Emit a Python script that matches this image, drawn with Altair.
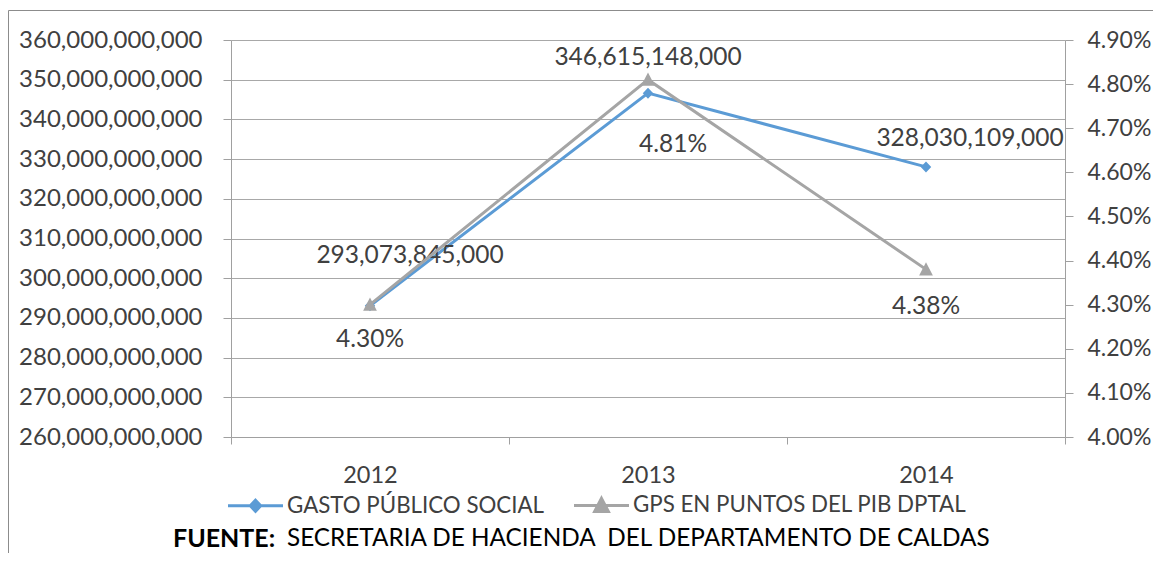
import altair as alt
import pandas as pd

years = ["2012", "2013", "2014"]
gasto = [293073845000, 346615148000, 328030109000]
gps_pct = [4.30, 4.81, 4.38]
series = ["GASTO PÚBLICO SOCIAL", "GPS EN PUNTOS DEL PIB DPTAL"]
left_ticks = [260000000000, 270000000000, 280000000000, 290000000000, 300000000000,
              310000000000, 320000000000, 330000000000, 340000000000, 350000000000,
              360000000000]
right_ticks = [0.040, 0.041, 0.042, 0.043, 0.044, 0.045, 0.046, 0.047, 0.048, 0.049]
source_bold = "FUENTE:"
source_text = "SECRETARIA DE HACIENDA\u00a0 DEL DEPARTAMENTO DE CALDAS"

FONT = "Lato"
TXT = "#404040"
AX = "#A0A0A0"
GRID = "#A8A8A8"
BLUE = "#5B9BD5"
GRAY = "#A5A5A5"
DIAMOND = "M-1,0L1,0M0,-0.2L0.19,0L0,0.2L-0.19,0Z"
TRIANGLE = "M-1,0L1,0M0,-0.26L0.25,0.22L-0.25,0.22Z"

df = pd.DataFrame({"year": years, "gasto": gasto, "gps": [v / 100 for v in gps_pct]})

X = alt.X("year:N", scale=alt.Scale(type="band", paddingInner=0, paddingOuter=0),
          bandPosition=0.5,
          axis=alt.Axis(title=None, labelAngle=0, tickBand="extent", tickSize=7, labelPadding=19,
                        domainColor=AX, tickColor=AX, labelColor=TXT, labelFont=FONT,
                        labelFontSize=23.5, grid=False, labelLimit=0))

YL = alt.Y("gasto:Q", scale=alt.Scale(domain=[260000000000, 360000000000], nice=False, zero=False),
           axis=alt.Axis(orient="left", values=left_ticks, format=",.0f", title=None, grid=True,
                         gridColor=GRID, domainColor=AX, tickColor=AX, tickSize=8, labelPadding=21,
                         labelFont=FONT, labelFontSize=24, labelColor=TXT, labelOverlap=False,
                         labelLimit=0))

YR = alt.Y("gps:Q", scale=alt.Scale(domain=[0.04, 0.049], nice=False, zero=False),
           axis=alt.Axis(orient="right", values=right_ticks, format=".2%", title=None, grid=False,
                         domainColor=AX, tickColor=AX, tickSize=8, labelPadding=14,
                         labelFont=FONT, labelFontSize=23, labelColor=TXT, labelOverlap=False,
                         labelLimit=0))

color_scale = alt.Scale(domain=series, range=[BLUE, GRAY])
shape_scale = alt.Scale(domain=series, range=[DIAMOND, TRIANGLE])
LEG = alt.Legend(orient="none", legendX=-4.5, legendY=436, direction="horizontal", title=None,
                 symbolSize=3025, symbolStrokeWidth=3, symbolOpacity=1,
                 labelFont=FONT, labelFontSize=22.3, labelColor=TXT, labelOffset=2.5,
                 labelLimit=0, columnPadding=23, padding=0)


def points(y, name):
    return alt.Chart(df).transform_calculate(serie="'" + name + "'").mark_point(
        filled=True, size=3025, strokeWidth=0, opacity=1
    ).encode(
        x=X, y=y,
        fill=alt.Fill("serie:N", scale=color_scale, legend=LEG),
        stroke=alt.Stroke("serie:N", scale=color_scale, legend=LEG),
        shape=alt.Shape("serie:N", scale=shape_scale, legend=LEG),
    )


def label(y, field, fmt, year, dx, dy):
    return alt.Chart(df).transform_filter(alt.datum.year == year).mark_text(
        dx=dx, dy=dy, font=FONT, fontSize=24.5, color=TXT, baseline="middle", align="center"
    ).encode(x=X, y=y, text=alt.Text(field, format=fmt))


line_g = alt.Chart(df).mark_line(color=BLUE, strokeWidth=3).encode(x=X, y=YL)
line_p = alt.Chart(df).mark_line(color=GRAY, strokeWidth=3).encode(x=X, y=YR)

left = alt.layer(
    line_g, points(YL, series[0]),
    label(YL, "gasto:Q", ",.0f", "2012", 40, -50),
    label(YL, "gasto:Q", ",.0f", "2013", 0, -35),
    label(YL, "gasto:Q", ",.0f", "2014", 44, -27.5),
)
right = alt.layer(
    line_p, points(YR, series[1]),
    label(YR, "gps:Q", ".2%", "2012", 0, 35),
    label(YR, "gps:Q", ".2%", "2013", 25, 65),
    label(YR, "gps:Q", ".2%", "2014", 0, 37.5),
)

one = pd.DataFrame({"k": [0]})
border = alt.Chart(one).mark_rect(fillOpacity=0, stroke="#8C8C8C", strokeWidth=1).encode(
    x=alt.value(-222.5), y=alt.value(-29.5), x2=alt.value(980), y2=alt.value(560))
foot1 = alt.Chart(one).mark_text(font=FONT, fontSize=25, fontWeight="bold", color="#000000",
                                 align="left", baseline="middle").encode(
    x=alt.value(-58), y=alt.value(499), text=alt.value(source_bold))
foot2 = alt.Chart(one).mark_text(font=FONT, fontSize=24.3, color="#000000",
                                 align="left", baseline="middle").encode(
    x=alt.value(56), y=alt.value(499), text=alt.value(source_text))

chart = alt.layer(border, left, right, foot1, foot2).resolve_scale(y="independent").properties(
    width=834, height=397,
    padding={"left": 223, "top": 32, "right": 88, "bottom": 116},
    autosize=alt.AutoSizeParams(type="none"),
).configure_view(strokeWidth=0)

chart.save("out.html", embed_options={"renderer": "svg", "actions": False})
